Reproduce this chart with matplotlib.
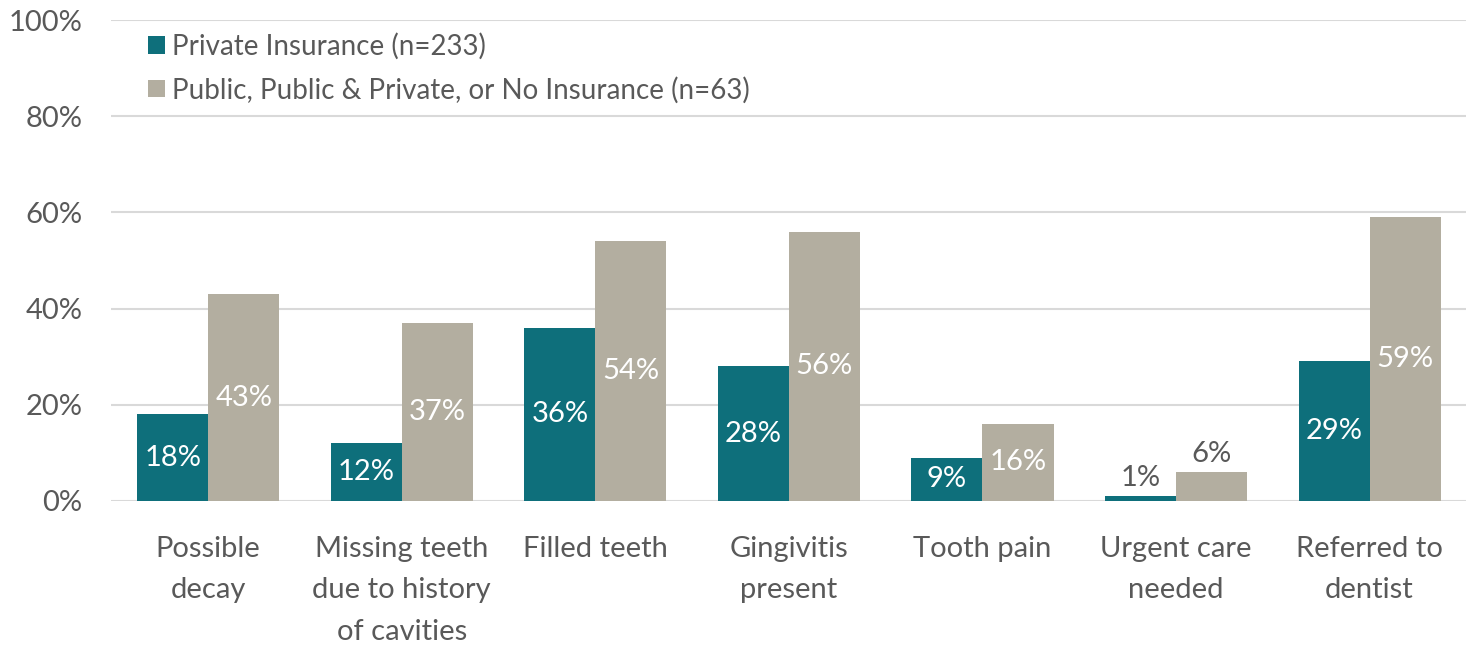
import matplotlib
matplotlib.use("Agg")
from matplotlib import pyplot as plt
import numpy as np

plt.rcParams['font.family'] = ['Lato', 'DejaVu Sans']

categories = ["Possible\ndecay", "Missing teeth\ndue to history\nof cavities", "Filled teeth",
              "Gingivitis\npresent", "Tooth pain", "Urgent care\nneeded", "Referred to\ndentist"]
private = [18, 12, 36, 28, 9, 1, 29]
public = [43, 37, 54, 56, 16, 6, 59]
series_names = ["Private Insurance (n=233)", "Public, Public & Private, or No Insurance (n=63)"]

teal = "#0E6F7B"
sand = "#B3AEA0"
txt = "#595959"

fig = plt.figure(figsize=(14.76, 6.48), dpi=100)
ax = fig.add_axes([0.0755, 0.227, 0.918, 0.742])

x = np.arange(len(categories))
w = 0.367
b1 = ax.bar(x - w / 2, private, w, color=teal, label=series_names[0], zorder=3)
b2 = ax.bar(x + w / 2, public, w, color=sand, label=series_names[1], zorder=3)

# labels: centred inside, above the bar when it is too small
for bars, vals in [(b1, private), (b2, public)]:
    for r, v in zip(bars, vals):
        cx = r.get_x() + r.get_width() / 2
        if v < 8:
            ax.text(cx, v + 1, f"{v}%", ha="center", va="bottom", color=txt, fontsize=21)
        else:
            ax.text(cx, v / 2, f"{v}%", ha="center", va="center", color="white", fontsize=21)

ax.set_ylim(0, 100)
ax.set_xlim(-0.5, len(categories) - 0.5)
ax.set_yticks(range(0, 101, 20))
ax.set_yticklabels([f"{t}%" for t in range(0, 101, 20)])
ax.set_xticks(x)
ax.set_xticklabels(categories, linespacing=1.74)
ax.tick_params(axis="both", length=0, labelsize=21, colors=txt)
ax.tick_params(axis="x", pad=25)
ax.tick_params(axis="y", pad=21)

ax.grid(axis="y", color="#D9D9D9", linewidth=1.5, zorder=0)
for s in ax.spines.values():
    s.set_visible(False)

ax.legend(loc="upper left", bbox_to_anchor=(0.023, 0.985), frameon=False, fontsize=20,
          handlelength=0.6, handleheight=0.6, handletextpad=0.25, labelspacing=0.6,
          borderaxespad=0, borderpad=0.2, labelcolor=txt)

fig.savefig("out.png", dpi=100)
